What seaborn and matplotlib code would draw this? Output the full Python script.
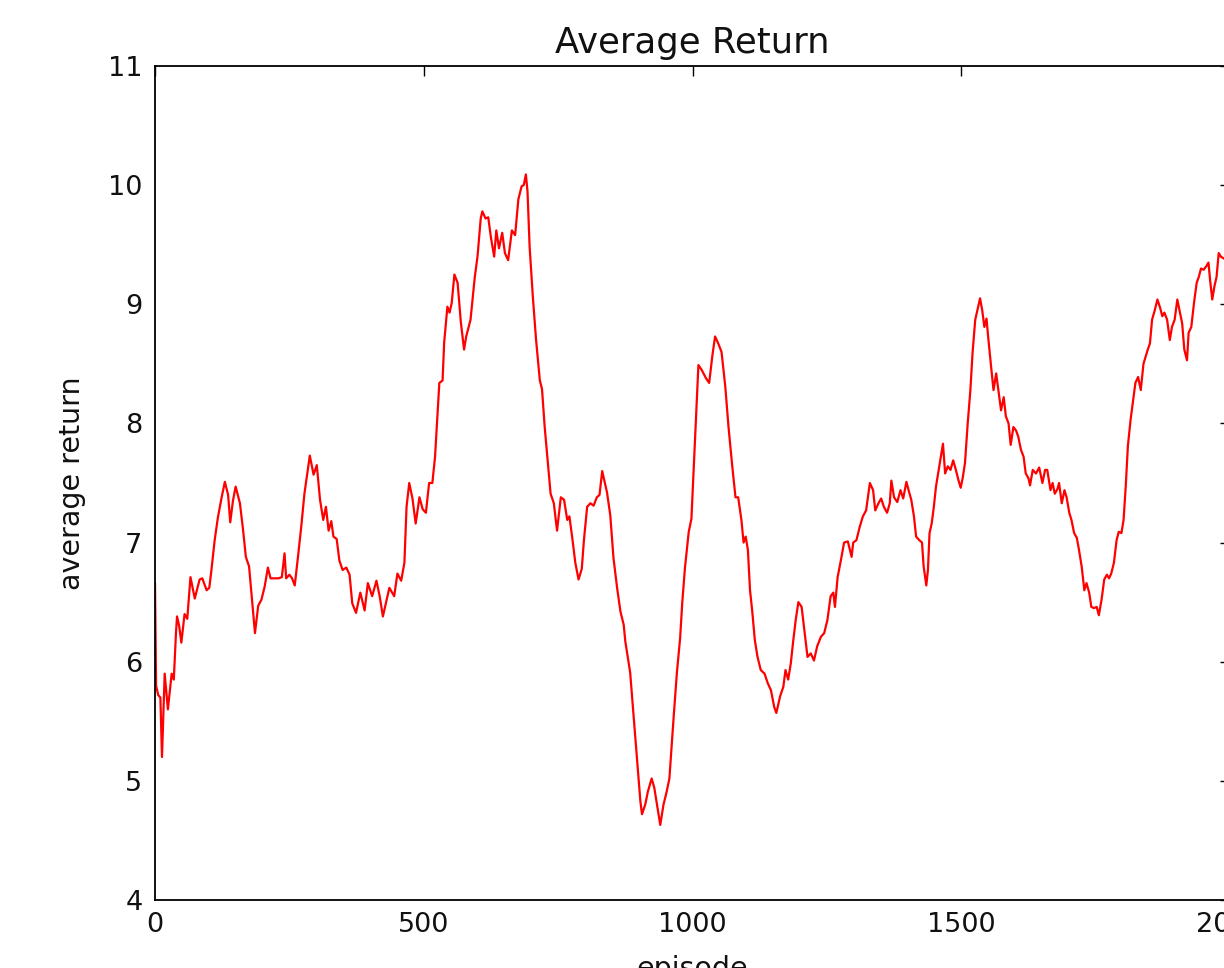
import matplotlib
matplotlib.use("Agg")
import matplotlib.pyplot as plt
import seaborn as sns
import pandas as pd

episodes = [
    0, 2, 6, 10, 13, 18, 24, 31, 35, 39, 41, 45, 49, 55, 60, 66, 74, 83, 88, 96,
    101, 105, 111, 117, 124, 130, 136, 140, 145, 150, 158, 164, 169, 175, 181, 186, 192, 198, 204, 210,
    215, 220, 230, 236, 241, 244, 250, 255, 260, 266, 272, 278, 288, 295, 301, 307, 313, 318, 323, 328,
    332, 338, 343, 349, 356, 362, 367, 374, 382, 390, 396, 404, 412, 418, 424, 430, 436, 445, 451, 458,
    464, 468, 473, 479, 485, 492, 498, 504, 510, 516, 521, 529, 535, 538, 544, 548, 552, 557, 563, 569,
    575, 579, 587, 595, 600, 606, 609, 615, 620, 625, 631, 635, 640, 646, 651, 657, 664, 670, 676, 682,
    686, 690, 693, 697, 703, 709, 716, 720, 725, 732, 736, 742, 748, 755, 761, 767, 771, 776, 782, 788,
    794, 798, 804, 810, 816, 822, 827, 832, 841, 847, 853, 860, 866, 872, 875, 884, 890, 897, 903, 906,
    912, 917, 924, 929, 934, 940, 946, 952, 957, 965, 971, 977, 981, 986, 993, 998, 1005, 1011, 1017, 1025,
    1031, 1037, 1042, 1048, 1054, 1061, 1067, 1074, 1080, 1085, 1091, 1095, 1099, 1103, 1107, 1111, 1116, 1121, 1127, 1134,
    1140, 1146, 1152, 1156, 1163, 1169, 1173, 1178, 1183, 1187, 1192, 1197, 1203, 1208, 1214, 1220, 1226, 1232, 1239, 1245,
    1251, 1257, 1262, 1265, 1270, 1276, 1282, 1289, 1296, 1299, 1305, 1311, 1317, 1323, 1330, 1336, 1340, 1346, 1351, 1356,
    1362, 1367, 1370, 1375, 1381, 1387, 1392, 1398, 1402, 1407, 1412, 1416, 1422, 1427, 1430, 1435, 1438, 1441, 1445, 1449,
    1453, 1458, 1461, 1466, 1470, 1475, 1480, 1485, 1490, 1495, 1499, 1503, 1507, 1512, 1517, 1521, 1526, 1531, 1535, 1539,
    1543, 1547, 1550, 1555, 1560, 1565, 1569, 1574, 1579, 1583, 1588, 1592, 1597, 1602, 1606, 1611, 1616, 1620, 1625, 1628,
    1633, 1639, 1645, 1651, 1656, 1660, 1666, 1670, 1674, 1679, 1682, 1687, 1692, 1696, 1701, 1705, 1710, 1715, 1719, 1724,
    1729, 1733, 1738, 1742, 1747, 1752, 1756, 1761, 1766, 1771, 1775, 1779, 1784, 1789, 1793, 1798, 1802, 1806, 1810, 1815,
    1820, 1824, 1829, 1834, 1839, 1843, 1847, 1851, 1855, 1860, 1865, 1870, 1874, 1878, 1883, 1888, 1892, 1897, 1902, 1907,
    1911, 1915, 1920, 1923, 1928, 1933, 1938, 1942, 1946, 1951, 1956, 1960, 1963, 1967, 1971, 1975, 1979, 1983, 1990, 1999,
]

avg_return = [
    6.66, 5.80, 5.72, 5.70, 5.20, 5.90, 5.60, 5.90, 5.85, 6.24, 6.38, 6.30, 6.16, 6.40, 6.36, 6.71, 6.53, 6.69, 6.70, 6.60,
    6.62, 6.77, 7.02, 7.21, 7.38, 7.51, 7.40, 7.17, 7.35, 7.47, 7.33, 7.10, 6.88, 6.80, 6.49, 6.24, 6.47, 6.52, 6.63, 6.79,
    6.70, 6.70, 6.70, 6.71, 6.91, 6.70, 6.73, 6.70, 6.64, 6.88, 7.13, 7.41, 7.73, 7.57, 7.65, 7.36, 7.19, 7.30, 7.10, 7.18,
    7.05, 7.03, 6.85, 6.77, 6.79, 6.73, 6.49, 6.41, 6.58, 6.43, 6.66, 6.55, 6.68, 6.55, 6.38, 6.50, 6.62, 6.55, 6.74, 6.68,
    6.83, 7.30, 7.50, 7.37, 7.16, 7.38, 7.28, 7.25, 7.50, 7.50, 7.72, 8.34, 8.36, 8.68, 8.98, 8.93, 9.01, 9.25, 9.18, 8.85,
    8.62, 8.73, 8.87, 9.23, 9.40, 9.72, 9.78, 9.72, 9.73, 9.56, 9.40, 9.62, 9.47, 9.60, 9.43, 9.37, 9.62, 9.58, 9.88, 9.99,
    10.00, 10.09, 9.95, 9.48, 9.06, 8.70, 8.36, 8.29, 7.97, 7.61, 7.41, 7.33, 7.10, 7.38, 7.36, 7.19, 7.22, 7.05, 6.83, 6.69,
    6.78, 7.02, 7.30, 7.33, 7.31, 7.38, 7.40, 7.60, 7.42, 7.23, 6.87, 6.61, 6.42, 6.31, 6.17, 5.91, 5.57, 5.17, 4.83, 4.72,
    4.80, 4.91, 5.02, 4.94, 4.80, 4.63, 4.80, 4.91, 5.02, 5.54, 5.91, 6.20, 6.50, 6.79, 7.09, 7.20, 7.90, 8.49, 8.45, 8.38,
    8.34, 8.57, 8.73, 8.67, 8.60, 8.31, 7.97, 7.64, 7.38, 7.38, 7.19, 7.00, 7.05, 6.94, 6.60, 6.43, 6.18, 6.04, 5.93, 5.90,
    5.82, 5.76, 5.62, 5.57, 5.71, 5.79, 5.93, 5.85, 5.99, 6.16, 6.35, 6.50, 6.46, 6.27, 6.04, 6.07, 6.01, 6.13, 6.21, 6.24,
    6.35, 6.55, 6.58, 6.46, 6.71, 6.85, 7.00, 7.01, 6.88, 7.00, 7.02, 7.13, 7.22, 7.27, 7.50, 7.44, 7.27, 7.33, 7.37, 7.30,
    7.25, 7.33, 7.52, 7.38, 7.34, 7.44, 7.37, 7.51, 7.44, 7.36, 7.22, 7.05, 7.02, 7.00, 6.80, 6.64, 6.77, 7.08, 7.16, 7.30,
    7.47, 7.61, 7.69, 7.83, 7.58, 7.64, 7.61, 7.69, 7.61, 7.52, 7.46, 7.55, 7.67, 8.00, 8.28, 8.59, 8.87, 8.97, 9.05, 8.95,
    8.81, 8.88, 8.73, 8.50, 8.28, 8.42, 8.28, 8.11, 8.22, 8.06, 8.00, 7.82, 7.97, 7.94, 7.89, 7.78, 7.72, 7.58, 7.54, 7.48,
    7.61, 7.58, 7.63, 7.50, 7.61, 7.61, 7.44, 7.50, 7.41, 7.45, 7.50, 7.33, 7.44, 7.38, 7.25, 7.19, 7.08, 7.04, 6.94, 6.80,
    6.60, 6.66, 6.58, 6.46, 6.45, 6.46, 6.39, 6.52, 6.69, 6.73, 6.70, 6.74, 6.83, 7.02, 7.09, 7.08, 7.19, 7.47, 7.81, 8.03,
    8.20, 8.34, 8.39, 8.28, 8.50, 8.56, 8.62, 8.67, 8.87, 8.95, 9.04, 8.97, 8.90, 8.93, 8.87, 8.70, 8.81, 8.87, 9.04, 8.93,
    8.84, 8.62, 8.53, 8.76, 8.81, 9.01, 9.18, 9.23, 9.30, 9.29, 9.32, 9.35, 9.20, 9.04, 9.15, 9.23, 9.43, 9.40, 9.38, 9.42,
]

x_ticks = [0, 500, 1000, 1500, 2000]
y_ticks = [4, 5, 6, 7, 8, 9, 10, 11]

title = "Average Return"
x_label = "episode"
y_label = "average return"

sns.set_theme(style="white")
plt.rcParams["font.family"] = ["DejaVu Sans"]

df = pd.DataFrame({"episode": episodes, "avg": avg_return})

fig = plt.figure(figsize=(12.24, 9.68), dpi=100)
ax = fig.add_axes([155 / 1224, 68 / 968, (1230 - 155) / 1224, (900 - 66) / 968])

sns.lineplot(data=df, x="episode", y="avg", color="red", linewidth=1.6,
             estimator=None, ax=ax)

ax.set_xlim(0, 2000)
ax.set_ylim(4, 11)
ax.set_xticks(x_ticks)
ax.set_xticklabels([str(t) for t in x_ticks])
ax.set_yticks(y_ticks)
ax.set_yticklabels([str(t) for t in y_ticks])

for s in ax.spines.values():
    s.set_visible(True)
    s.set_color("black")
    s.set_linewidth(1.3)

ax.tick_params(direction="in", top=True, right=True, length=7, width=1,
               color="black", labelsize=19.5, pad=9, labelcolor="#111111")
ax.set_title(title, fontsize=25.5, pad=9, color="#111111")
ax.set_xlabel(x_label, fontsize=20.5, labelpad=12, color="#111111")
ax.set_ylabel(y_label, fontsize=20.5, labelpad=16, color="#111111")
ax.grid(False)

fig.savefig("out.png", dpi=100, facecolor="white")
